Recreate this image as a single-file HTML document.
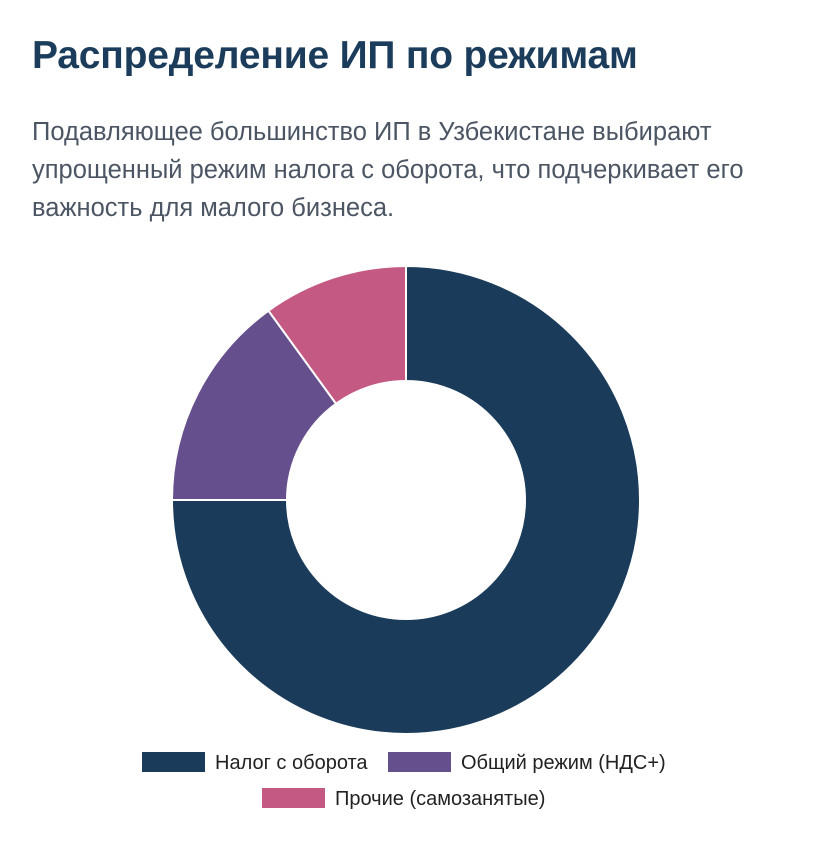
<!DOCTYPE html>
<html><head><meta charset="utf-8">
<style>
body{margin:0;background:#fff;width:814px;height:856px;overflow:hidden;font-family:"Liberation Sans",sans-serif;}
h1{position:absolute;left:32px;top:34px;margin:0;font-size:39px;font-weight:bold;color:#1b3d5b;letter-spacing:-0.2px;}
p{position:absolute;left:32px;top:113px;margin:0;width:730px;font-size:25.5px;line-height:38px;color:#4b5563;}
svg{position:absolute;left:0;top:0;}
</style></head><body>
<h1>Распределение ИП по режимам</h1>
<p>Подавляющее большинство ИП в Узбекистане выбирают упрощенный режим налога с оборота, что подчеркивает его важность для малого бизнеса.</p>
<svg id="chart" width="814" height="856"></svg>
<script>
const categories=["Налог с оборота","Общий режим (НДС+)","Прочие (самозанятые)"];
const values=[75,15,10];
const colors=["#1a3c5a","#654f8c","#c45a84"];
const svg=document.getElementById('chart');
const NS="http://www.w3.org/2000/svg";
const cx=406,cy=500,R=234,r=119;
const total=values.reduce((a,b)=>a+b,0);
function pt(a,rad){return [cx+rad*Math.sin(a),cy-rad*Math.cos(a)];}
let a0=0;
values.forEach((v,i)=>{
  const a1=a0+v/total*2*Math.PI;
  const large=(a1-a0)>Math.PI?1:0;
  const [x0,y0]=pt(a0,R),[x1,y1]=pt(a1,R),[x2,y2]=pt(a1,r),[x3,y3]=pt(a0,r);
  const p=document.createElementNS(NS,'path');
  p.setAttribute('d',`M${x0},${y0}A${R},${R} 0 ${large} 1 ${x1},${y1}L${x2},${y2}A${r},${r} 0 ${large} 0 ${x3},${y3}Z`);
  p.setAttribute('fill',colors[i]);p.setAttribute('stroke','#fff');p.setAttribute('stroke-width','2');
  
  
  svg.appendChild(p);
  a0=a1;
});
const legend=[[142,752],[388,752],[262,788]];
categories.forEach((c,i)=>{
  const g=document.createElementNS(NS,'g');
  
  
  const rc=document.createElementNS(NS,'rect');
  rc.setAttribute('x',legend[i][0]);rc.setAttribute('y',legend[i][1]);rc.setAttribute('width',63);rc.setAttribute('height',20);rc.setAttribute('fill',colors[i]);
  const t=document.createElementNS(NS,'text');
  t.setAttribute('x',legend[i][0]+73);t.setAttribute('y',legend[i][1]+17);t.setAttribute('font-size','20');t.setAttribute('fill','#222');
  t.setAttribute('font-family','Liberation Sans, sans-serif');
  t.textContent=c;
  g.appendChild(rc);g.appendChild(t);svg.appendChild(g);
});
</script>
</body></html>
